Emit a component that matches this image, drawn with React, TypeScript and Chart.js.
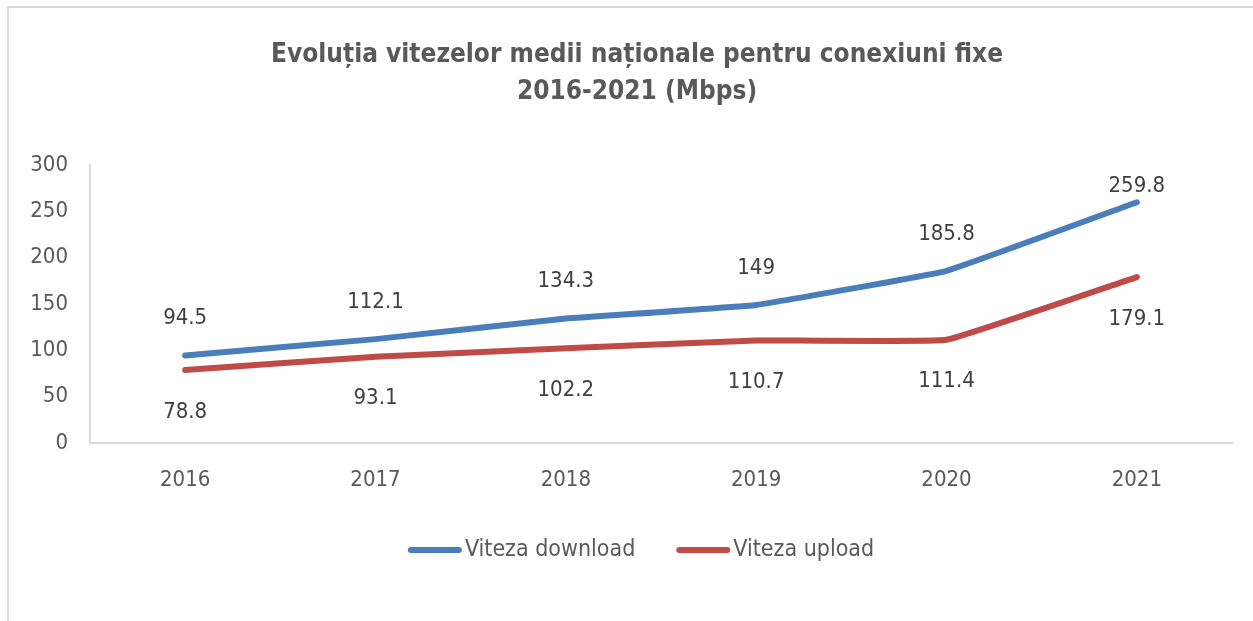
import React, { useEffect, useRef } from "react";
import { Chart, registerables } from "chart.js";

Chart.register(...registerables);

const years = ["2016", "2017", "2018", "2019", "2020", "2021"];
const download = [94.5, 112.1, 134.3, 149, 185.8, 259.8];
const upload = [78.8, 93.1, 102.2, 110.7, 111.4, 179.1];
const seriesNames = ["Viteza download", "Viteza upload"];
const seriesColors = ["#4A7EBB", "#BE4B48"];
const titleLines = [
  "Evoluția vitezelor medii naționale pentru conexiuni fixe",
  "2016-2021 (Mbps)",
];
const yMin = 0;
const yMax = 300;
const yStep = 50;

const FONT = '"DejaVu Sans Condensed", "Liberation Sans Narrow", "DejaVu Sans", sans-serif';
const TITLE_FONT = '"Liberation Sans Narrow", "DejaVu Sans Condensed", "DejaVu Sans", sans-serif';
const TEXT = "#595959";
const LABEL = "#404040";
const AXIS = "#d9d9d9";

const titlePlugin = {
  id: "customTitle",
  afterDraw(chart: any) {
    const ctx = chart.ctx;
    ctx.save();
    ctx.fillStyle = TEXT;
    ctx.font = `bold 26px ${TITLE_FONT}`;
    ctx.textAlign = "center";
    ctx.textBaseline = "middle";
    ctx.fillText(titleLines[0], 637, 55);
    ctx.fillText(titleLines[1], 637, 92);
    ctx.restore();
  },
};

const dataLabelPlugin = {
  id: "dataLabels",
  afterDatasetsDraw(chart: any) {
    const ctx = chart.ctx;
    const area = chart.chartArea;
    ctx.save();
    ctx.fillStyle = LABEL;
    ctx.font = `22px ${FONT}`;
    ctx.textAlign = "center";
    ctx.textBaseline = "middle";
    chart.data.datasets.forEach((ds: any, di: number) => {
      const meta = chart.getDatasetMeta(di);
      meta.data.forEach((pt: any, i: number) => {
        const v = ds.data[i];
        let y;
        if (di === 0) y = Math.max(pt.y - 37, area.top + 21);
        else y = pt.y + 42;
        ctx.fillText(String(v), pt.x, y);
      });
    });
    ctx.restore();
  },
};

const legendPlugin = {
  id: "customLegend",
  afterDraw(chart: any) {
    const ctx = chart.ctx;
    ctx.save();
    ctx.font = `23px ${FONT}`;
    ctx.textBaseline = "middle";
    ctx.textAlign = "left";
    const sample = 54;
    const gap = 3;
    const spacing = 41;
    const items = chart.data.datasets.map((ds: any) => ({
      label: ds.label,
      color: ds.borderColor,
      w: sample + gap + ctx.measureText(ds.label).width,
    }));
    const total = items.reduce((a: number, it: any) => a + it.w, 0) + spacing * (items.length - 1);
    let x = 641 - total / 2;
    const y = 550;
    items.forEach((it: any) => {
      ctx.strokeStyle = it.color;
      ctx.lineWidth = 6;
      ctx.lineCap = "round";
      ctx.beginPath();
      ctx.moveTo(x + 3, y);
      ctx.lineTo(x + sample - 3, y);
      ctx.stroke();
      ctx.fillStyle = TEXT;
      ctx.fillText(it.label, x + sample + gap, y);
      x += it.w + spacing;
    });
    ctx.restore();
  },
};

export default function App() {
  const ref = useRef<HTMLCanvasElement | null>(null);

  useEffect(() => {
    if (!ref.current) return;
    const chart = new Chart(ref.current, {
      type: "line",
      data: {
        labels: years,
        datasets: [
          {
            label: seriesNames[0],
            data: download,
            borderColor: seriesColors[0],
            backgroundColor: seriesColors[0],
            borderWidth: 6,
            pointRadius: 0,
            tension: 0.08,
            borderCapStyle: "round",
            borderJoinStyle: "round",
          },
          {
            label: seriesNames[1],
            data: upload,
            borderColor: seriesColors[1],
            backgroundColor: seriesColors[1],
            borderWidth: 6,
            pointRadius: 0,
            tension: 0.08,
            borderCapStyle: "round",
            borderJoinStyle: "round",
          },
        ],
      },
      options: {
        responsive: false,
        animation: false,
        layout: { padding: { top: 165, right: 21, bottom: 118, left: 0 } },
        plugins: {
          legend: { display: false },
          title: { display: false },
          tooltip: { enabled: false },
        },
        scales: {
          x: {
            type: "category",
            offset: true,
            grid: { display: false, drawTicks: false },
            border: { display: true, color: AXIS, width: 2 },
            ticks: { color: TEXT, font: { family: FONT, size: 22 }, padding: 24 },
            afterFit: (s: any) => {
              s.height = 60;
            },
          },
          y: {
            min: yMin,
            max: yMax,
            grid: { display: false, drawTicks: false },
            border: { display: true, color: AXIS, width: 2 },
            ticks: {
              stepSize: yStep,
              color: TEXT,
              font: { family: FONT, size: 22 },
              padding: 22,
            },
            afterFit: (s: any) => {
              s.width = 90;
            },
          },
        },
      },
      plugins: [titlePlugin, dataLabelPlugin, legendPlugin],
    } as any);
    return () => chart.destroy();
  }, []);

  return (
    <div
      style={{
        position: "fixed",
        left: 0,
        top: 0,
        width: 1253,
        height: 621,
        background: "#fff",
      }}
    >
      <canvas ref={ref} width={1253} height={621} style={{ position: "absolute", left: 0, top: 0 }} />
      <div
        style={{
          position: "absolute",
          left: 7,
          top: 6,
          right: 0,
          bottom: 0,
          borderTop: `2px solid ${AXIS}`,
          borderLeft: `2px solid ${AXIS}`,
          pointerEvents: "none",
        }}
      />
    </div>
  );
}
